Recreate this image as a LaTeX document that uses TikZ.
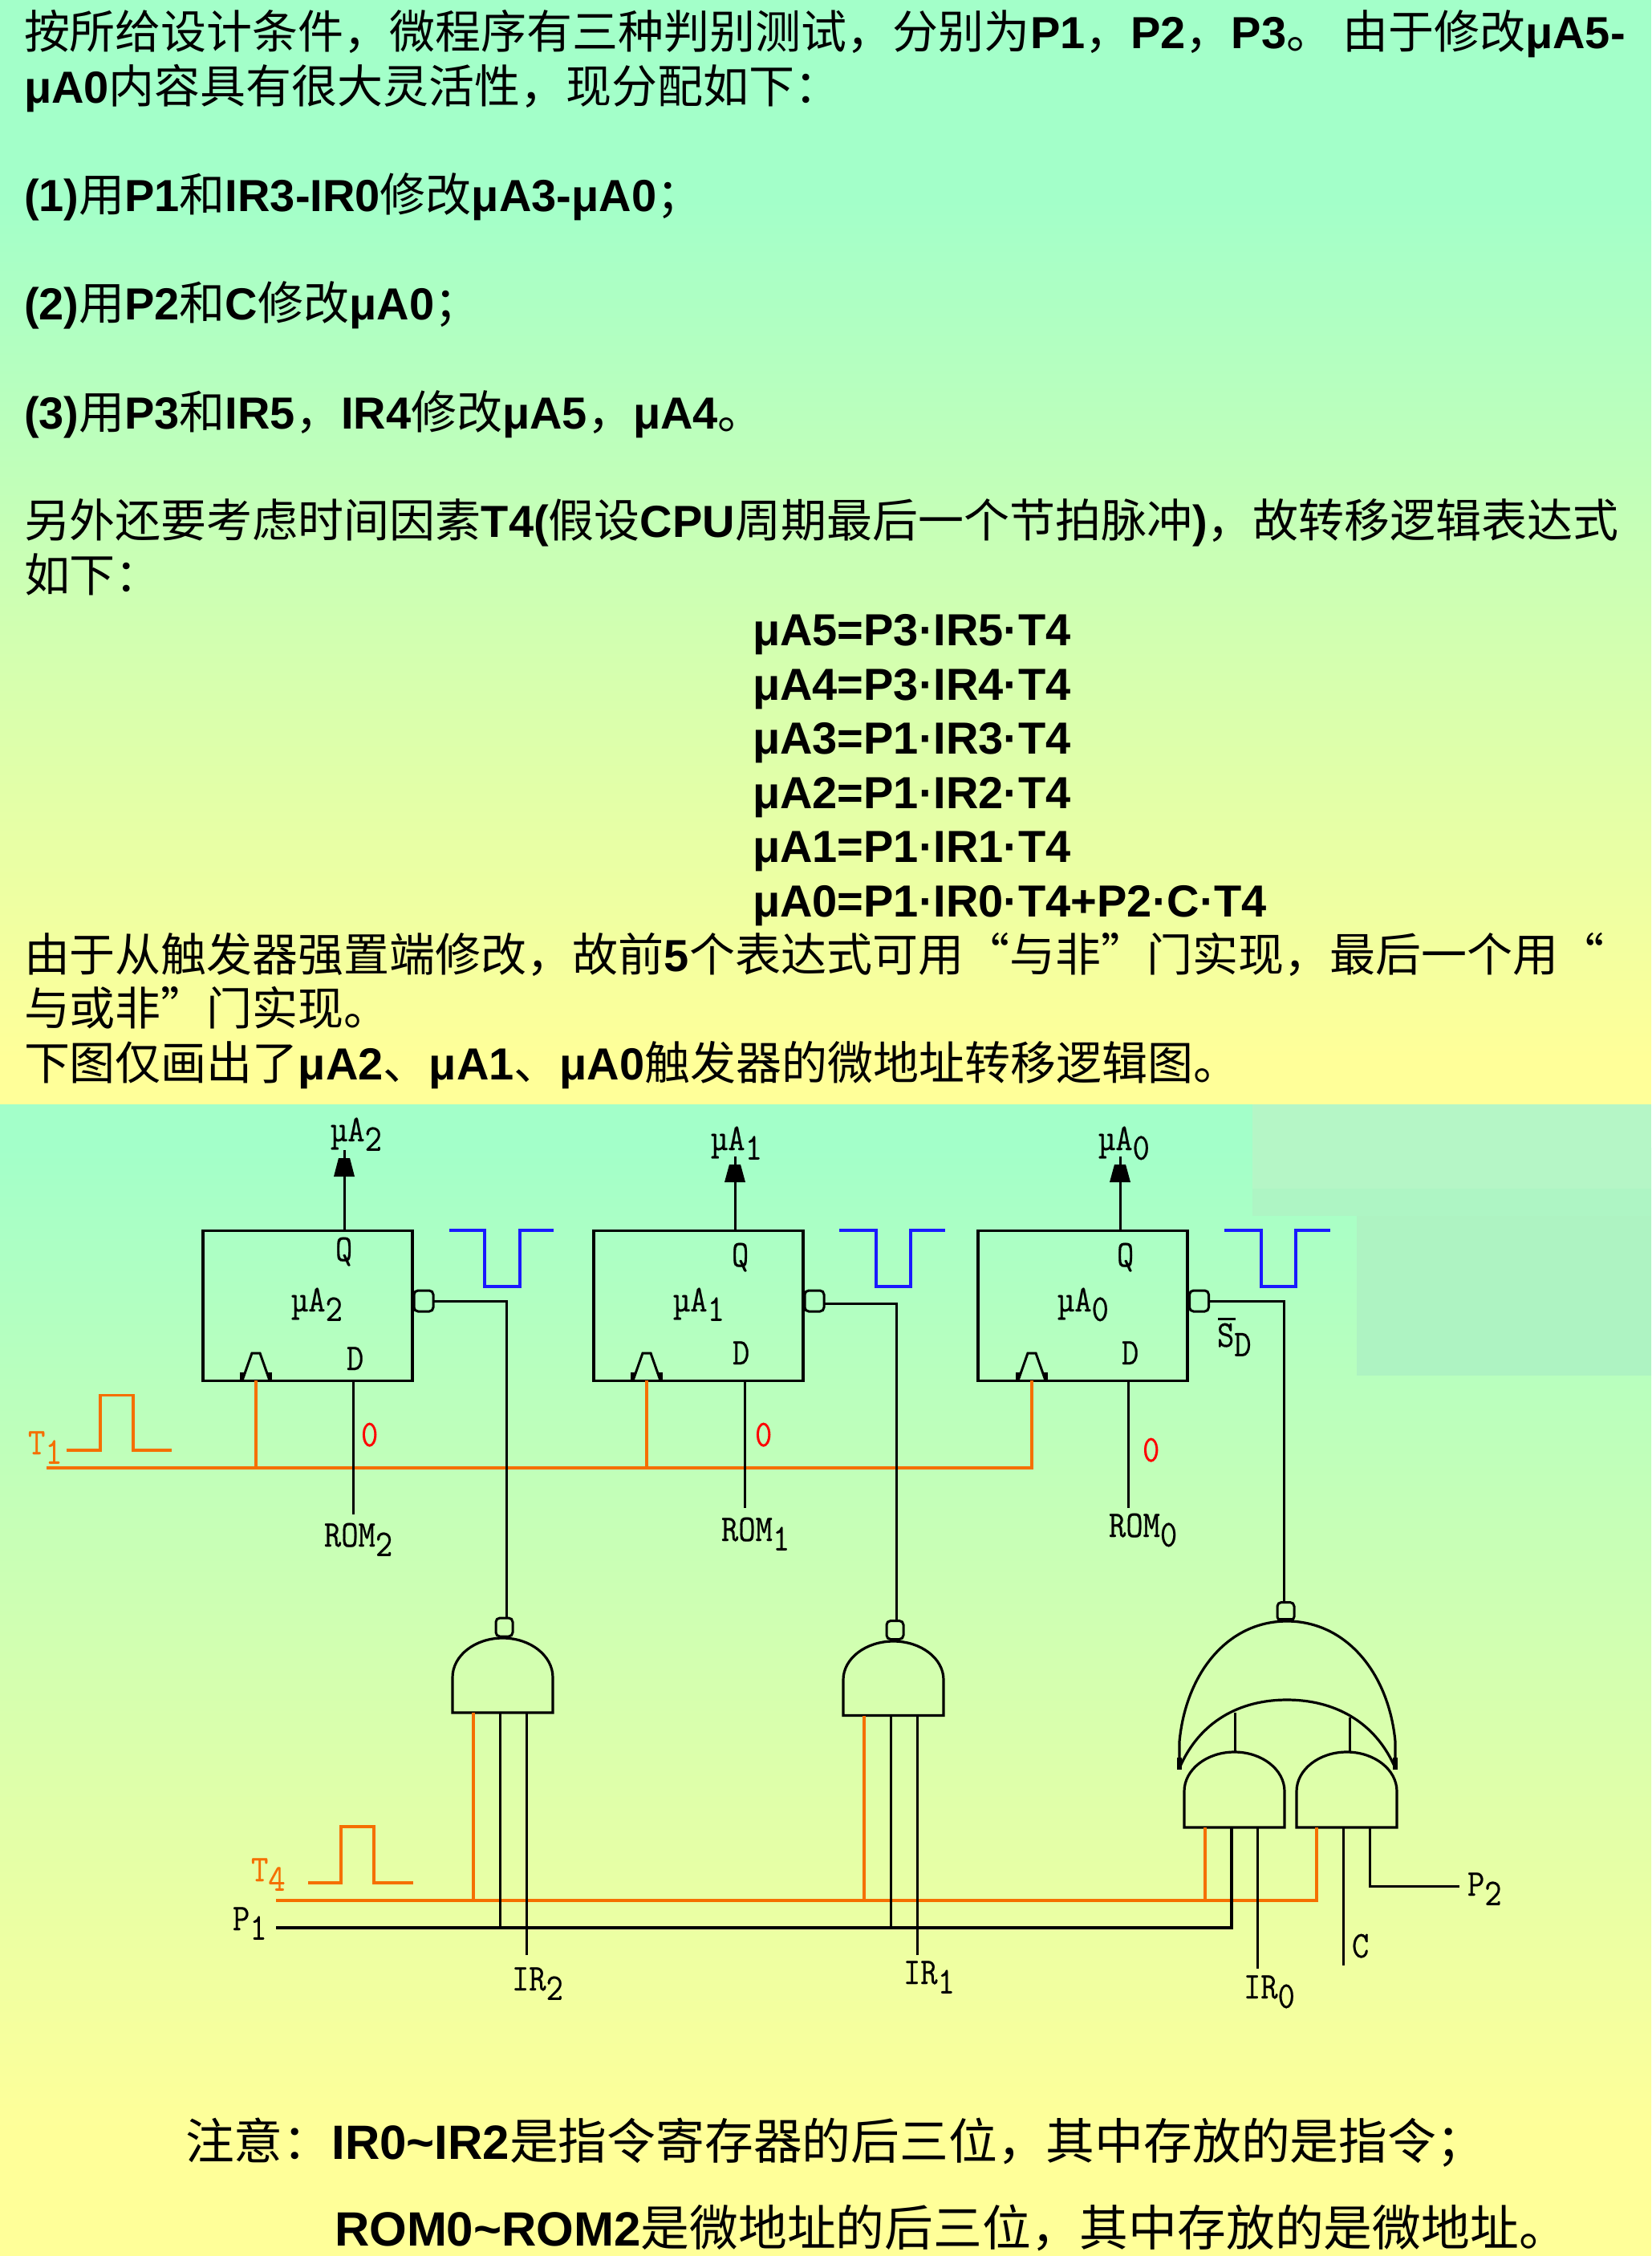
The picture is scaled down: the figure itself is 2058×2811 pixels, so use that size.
\documentclass[tikz,border=0pt]{standalone}
\usepackage{fontspec}
\setmainfont{Noto Sans CJK SC}
\newfontfamily\lat{Liberation Sans}
\newfontfamily\sigf{Latin Modern Mono}[FakeBold=0.35,FakeStretch=0.88]
\newcommand{\Ba}[1]{{\lat\bfseries\fontsize{28}{28}\selectfont #1}}
\newcommand{\Bb}[1]{{\lat\bfseries\fontsize{30}{30}\selectfont #1}}
\newcommand{\lab}[2]{#1\raisebox{-0.25em}{#2}}
\definecolor{bgtop}{HTML}{A3FFC9}
\definecolor{bgbot}{HTML}{FFFF99}
\definecolor{wireor}{HTML}{F56F00}
\definecolor{pulseb}{HTML}{1A1AFF}
\tikzset{
  para/.style={anchor=base west,inner sep=0pt,outer sep=0pt,font=\fontsize{28.5}{28.5}\selectfont},
  parb/.style={anchor=base west,inner sep=0pt,outer sep=0pt,font=\fontsize{30.4}{30.4}\selectfont},
  sig/.style={anchor=base west,inner sep=0pt,outer sep=0pt,font=\sigf\fontsize{23.5}{23.5}\selectfont},
  sigor/.style={sig,text=wireor},
  sigred/.style={sig,text=red},
  wire/.style={draw=black,line width=1.5pt,line cap=butt,line join=miter},
  owire/.style={draw=wireor,line width=1.6pt},
  bwire/.style={draw=pulseb,line width=1.6pt},
  ffbox/.style={draw=black,line width=1.8pt,minimum width=130.5pt,minimum height=93.5pt,inner sep=0pt,outer sep=0pt},
  bub/.style={draw=black,line width=1.5pt,rounded corners=2.5pt,minimum width=12pt,minimum height=13pt,inner sep=0pt,outer sep=0pt},
  bubs/.style={draw=black,line width=1.5pt,rounded corners=2.5pt,minimum width=10.5pt,minimum height=11.5pt,inner sep=0pt,outer sep=0pt},
  gate/.style={draw=black,line width=1.6pt,line join=miter},
  ahead/.style={fill=black,draw=none},
}
% dome: left, right, top y, shoulder y, bottom y
\newcommand{\dome}[5]{%
  \pgfmathsetmacro{\xm}{(#1+#2)/2}\pgfmathsetmacro{\kx}{0.552*(#2-#1)/2}\pgfmathsetmacro{\ky}{0.552*(#4-#3)}%
  \draw[gate] (#1,#5) -- (#1,#4) .. controls (#1,#4-\ky) and (\xm-\kx,#3) .. (\xm,#3)
     .. controls (\xm+\kx,#3) and (#2,#4-\ky) .. (#2,#4) -- (#2,#5) -- cycle;}
% arrow head pointing up: x, y top, y bottom
\newcommand{\uphead}[3]{\fill[ahead] (#1-7,#2) -- (#1+7,#2) -- (#1+13,#3) -- (#1-13,#3) -- cycle;}
% clock wedge: centre x
\newcommand{\clk}[1]{\draw[gate,line width=1.5pt] (#1-17,1720) -- (#1-5,1686) -- (#1+5,1686) -- (#1+17,1720);
  \fill[black] (#1-20,1710) rectangle (#1-15,1720); \fill[black] (#1+15,1710) rectangle (#1+20,1720);}
\newcommand{\blue}[4]{\draw[bwire] (#1,1533) -- (#2,1533) -- (#2,1603) -- (#3,1603) -- (#3,1533) -- (#4,1533);}
\begin{document}
\begin{tikzpicture}[x=0.5pt,y=-0.5pt]
\useasboundingbox (0,0) rectangle (2058,2811);
% backgrounds
\fill[bgtop] (0,0) rectangle (2058,251);
\shade[top color=bgtop,bottom color=bgbot,draw=none] (0,250) rectangle (2058,1320);
\fill[bgbot] (0,1319) rectangle (2058,1377);
\fill[bgtop] (0,1376) rectangle (2058,1431);
\shade[top color=bgtop,bottom color=bgbot,draw=none] (0,1430) rectangle (2058,2660);
\fill[bgbot] (0,2659) rectangle (2058,2811);
\fill[color={rgb,255:red,181;green,246;blue,198}] (1561,1376) rectangle (2058,1481);
\fill[color={rgb,255:red,174;green,245;blue,196}] (1561,1481) rectangle (2058,1515);
\fill[color={rgb,255:red,174;green,243;blue,194}] (1691,1515) rectangle (2058,1714);

% paragraph text
\node[para] (t1) at (30,60) {按所给设计条件，微程序有三种判别测试，分别为\Ba{P1}，\Ba{P2}，\Ba{P3}。 由于修改\Ba{μA5-}};
\node[para] (t2) at (30,128) {\Ba{μA0}内容具有很大灵活性，现分配如下：};
\node[para] (t3) at (30,263) {\Ba{(1)}用\Ba{P1}和\Ba{IR3-IR0}修改\Ba{μA3-μA0}；};
\node[para] (t4) at (30,398) {\Ba{(2)}用\Ba{P2}和\Ba{C}修改\Ba{μA0}；};
\node[para] (t5) at (30,534) {\Ba{(3)}用\Ba{P3}和\Ba{IR5}，\Ba{IR4}修改\Ba{μA5}，\Ba{μA4}。};
\node[para] (t6) at (30,669) {另外还要考虑时间因素\Ba{T4(}假设\Ba{CPU}周期最后一个节拍脉冲\Ba{)}，故转移逻辑表达式};
\node[para] (t7) at (30,737) {如下：};
\node[para] (e1) at (938,804) {\Ba{μA5=P3·IR5·T4}};
\node[para] (e2) at (938,872) {\Ba{μA4=P3·IR4·T4}};
\node[para] (e3) at (938,939) {\Ba{μA3=P1·IR3·T4}};
\node[para] (e4) at (938,1007) {\Ba{μA2=P1·IR2·T4}};
\node[para] (e5) at (938,1074) {\Ba{μA1=P1·IR1·T4}};
\node[para] (e6) at (938,1142) {\Ba{μA0=P1·IR0·T4+P2·C·T4}};
\node[para] (t8) at (30,1210) {由于从触发器强置端修改，故前\Ba{5}个表达式可用“与非”门实现，最后一个用“};
\node[para] (t9) at (30,1277) {与或非”门实现。};
\node[para] (t10) at (30,1345) {下图仅画出了\Ba{μA2}、\Ba{μA1}、\Ba{μA0}触发器的微地址转移逻辑图。};

% flip-flops
\node[ffbox] (ff2) at (383.5,1627) {};
\node[ffbox] (ff1) at (870.5,1627) {};
\node[ffbox] (ff0) at (1349.75,1627) {};
\clk{319}\clk{806}\clk{1286}
% set bubbles
\node[bub] (b2) at (528,1621) {};
\node[bub] (b1) at (1015,1621) {};
\node[bub] (b0) at (1494.5,1621) {};
% gate bubbles
\node[bubs] (g2b) at (628.5,2027.5) {};
\node[bubs] (g1b) at (1115.5,2031) {};
\node[bubs] (g0b) at (1602.5,2008) {};
% gates
\dome{564}{689}{2041}{2090}{2134}
\dome{1051}{1176}{2045}{2093}{2137.5}
\dome{1476}{1601}{2183}{2232}{2277}
\dome{1616}{1741}{2183}{2232}{2277}
\draw[gate] (1470,2203) -- (1470,2170) .. controls (1478,2085) and (1530,2020) .. (1604,2020)
   .. controls (1678,2020) and (1731,2085) .. (1739,2170) -- (1739,2203);
\draw[gate] (1470,2203) .. controls (1495,2145) and (1545,2118) .. (1604,2118)
   .. controls (1663,2118) and (1714,2145) .. (1739,2203);
\fill[black] (1467,2190) rectangle (1473,2205);
\fill[black] (1736,2190) rectangle (1742,2205);
\fill[black] (1594,2016) rectangle (1612,2021);
\coordinate (a0) at (1539,2134); \coordinate (a0b) at (1539,2183);
\coordinate (a1) at (1682,2140); \coordinate (a1b) at (1682,2183);
\draw[wire] (a0) -- (a0b); \draw[wire] (a1) -- (a1b);

% pin coordinates
\coordinate (q2) at (429,1533); \coordinate (q2t) at (429,1433);
\coordinate (q1) at (916,1533); \coordinate (q1t) at (916,1441);
\coordinate (q0) at (1396,1533); \coordinate (q0t) at (1396,1441);
\coordinate (d2) at (440,1720); \coordinate (d2b) at (440,1887);
\coordinate (d1) at (928,1720); \coordinate (d1b) at (928,1879);
\coordinate (d0) at (1406,1720); \coordinate (d0b) at (1406,1879);
\coordinate (t1l) at (58,1829); \coordinate (t1r) at (1286,1829);
\coordinate (c2) at (319,1720); \coordinate (c2b) at (319,1829);
\coordinate (c1) at (806,1720); \coordinate (c1b) at (806,1829);
\coordinate (c0) at (1286,1720);
\coordinate (t4l) at (344,2368); \coordinate (t4r) at (1641,2368);
\coordinate (p1l) at (344,2402); \coordinate (p1r) at (1535,2402);
\coordinate (b1o) at (1027,1624.5);

% output lines
\draw[wire] (q2) -- (q2t); \uphead{429}{1443}{1466}
\draw[wire] (q1) -- (q1t); \uphead{916}{1451}{1473}
\draw[wire] (q0) -- (q0t); \uphead{1396}{1451}{1473}
% T1 bus (drawn under D wires)
\draw[owire] (t1l) -- (t1r) -- (c0);
\draw[owire] (c2) -- (c2b);
\draw[owire] (c1) -- (c1b);
% D inputs
\draw[wire] (d2) -- (d2b);
\draw[wire] (d1) -- (d1b);
\draw[wire] (d0) -- (d0b);
% set wires
\draw[wire] (b2.east) -- (631,1621) -- (631,2016);
\draw[wire] (b1o) -- (1117,1624.5) -- (1117,2019.5);
\draw[wire] (b0.east) -- (1600.5,1621) -- (1600.5,1998);
% gate inputs
\draw[owire] (t4l) -- (t4r) -- (1641,2277);
\draw[owire] (590,2134) -- (590,2368);
\draw[owire] (1077,2137.5) -- (1077,2368);
\draw[owire] (1502,2277) -- (1502,2368);
\draw[wire,line width=1.6pt] (p1l) -- (p1r) -- (1535,2277);
\draw[wire] (623,2134) -- (623,2402);
\draw[wire] (1110,2137.5) -- (1110,2402);
\draw[wire] (656,2134) -- (656,2436);
\draw[wire] (1143,2137.5) -- (1143,2436);
\draw[wire] (1567.5,2277) -- (1567.5,2453);
\draw[wire] (1674,2277) -- (1674,2449);
\draw[wire] (1707,2277) -- (1707,2350) -- (1819,2350);

% pulses
\draw[owire] (83,1807) -- (125,1807) -- (125,1738.5) -- (166,1738.5) -- (166,1807) -- (214,1807);
\draw[owire] (384,2346) -- (425,2346) -- (425,2276) -- (466,2276) -- (466,2346) -- (515,2346);
\blue{560}{604}{648}{690}
\blue{1046}{1092}{1135}{1178}
\blue{1526}{1572}{1615}{1658}

% signal labels
\node[sig] (l1) at (412,1422) {\lab{µA}{2}};
\node[sig] (l2) at (886,1433) {\lab{µA}{1}};
\node[sig] (l3) at (1369,1433) {\lab{µA}{0}};
\node[sig] (l4) at (363,1634) {\lab{µA}{2}};
\node[sig] (l5) at (839,1634) {\lab{µA}{1}};
\node[sig] (l6) at (1318,1634) {\lab{µA}{0}};
\node[sig] (q2l) at (418,1571) {Q};
\node[sig] (q1l) at (912,1578) {Q};
\node[sig] (q0l) at (1392,1578) {Q};
\node[sig] (d2l) at (432,1707) {D};
\node[sig] (d1l) at (913,1700) {D};
\node[sig] (d0l) at (1398,1700) {D};
\node[sig] (r2) at (404,1927) {\lab{ROM}{2}};
\node[sig] (r1) at (899,1920) {\lab{ROM}{1}};
\node[sig] (r0) at (1382,1915) {\lab{ROM}{0}};
\node[sigor] (t1n) at (35,1812) {\lab{T}{1}};
\node[sigor] (t4n) at (313,2344) {\lab{T}{4}};
\node[sig] (p1n) at (290,2405) {\lab{P}{1}};
\node[sig] (i2) at (638,2480) {\lab{IR}{2}};
\node[sig] (i1) at (1126,2472) {\lab{IR}{1}};
\node[sig] (i0) at (1550,2490) {\lab{IR}{0}};
\node[sig] (cn) at (1685,2439) {C};
\node[sig] (p2n) at (1829,2362) {\lab{P}{2}};
\node[sig] (sdn) at (1517,1678) {\lab{S}{D}};
\coordinate (sbl) at (1518,1643); \coordinate (sbr) at (1540,1643);
\draw[wire] (sbl) -- (sbr);
\node[sigred] (z2) at (450,1802) {0};
\node[sigred] (z1) at (941,1802) {0};
\node[sigred] (z0) at (1424,1821) {0};

% bottom note
\node[parb] (n1) at (231,2690) {注意：\Bb{IR0\textasciitilde IR2}是指令寄存器的后三位，其中存放的是指令；};
\node[parb] (n2) at (417,2798) {\Bb{ROM0\textasciitilde ROM2}是微地址的后三位，其中存放的是微地址。};
\end{tikzpicture}
\end{document}
